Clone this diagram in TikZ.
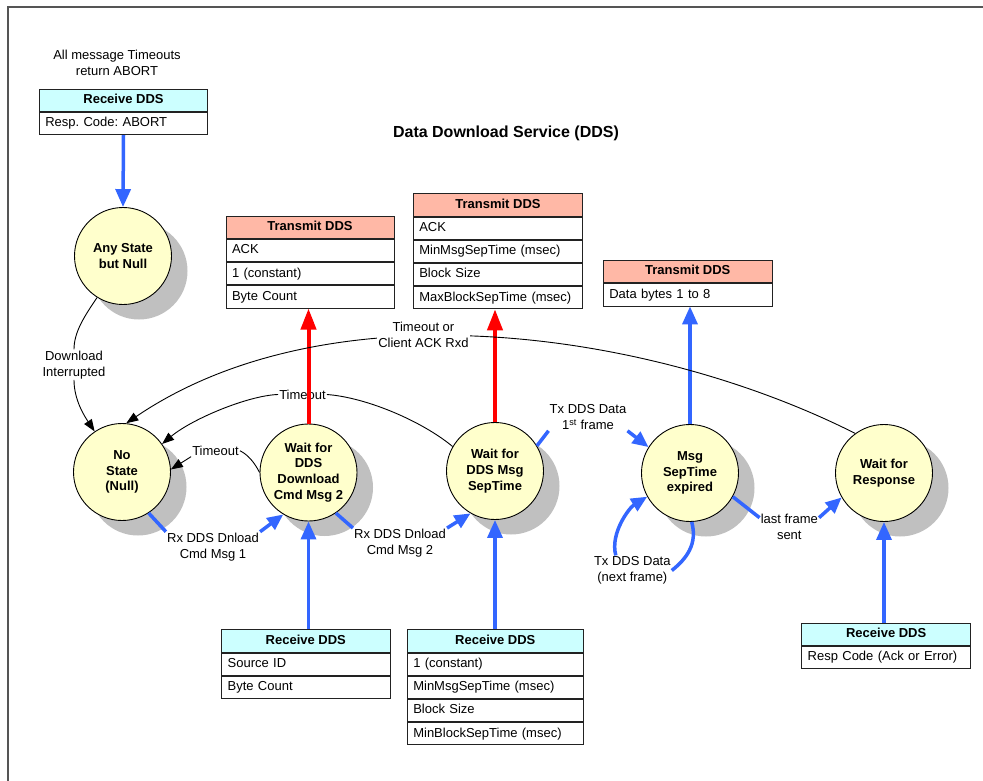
\documentclass[tikz,border=0pt]{standalone}
\usepackage{fontspec}
\setmainfont{Liberation Sans}
\usetikzlibrary{arrows.meta,positioning,shadows}
\definecolor{stateyellow}{HTML}{FFFFCC}
\definecolor{shadowgray}{HTML}{C0C0C0}
\definecolor{txcol}{HTML}{FFB8A6}
\definecolor{rxcol}{HTML}{CCFFFF}
\definecolor{arrowblue}{HTML}{3366FF}
\definecolor{arrowred}{HTML}{FF0000}
\definecolor{boxline}{HTML}{222222}
\definecolor{framecol}{HTML}{555555}
\frenchspacing
\begin{document}
\begin{tikzpicture}[x=1pt,y=-1pt,
  every node/.style={font=\fontsize{13}{16}\selectfont},
  circ/.style={circle,draw=black,line width=0.9pt,fill=stateyellow,minimum size=97pt,inner sep=0pt,align=center,
    font=\fontsize{13}{15.7}\selectfont\bfseries,
    drop shadow={shadow xshift=16pt,shadow yshift=-15pt,fill=shadowgray,opacity=1}},
  hdr/.style={draw=boxline,line width=0.9pt,fill=#1,minimum height=22.3pt,inner sep=0pt,
    text height=9.5pt,text depth=2.8pt,
    font=\fontsize{13}{16}\selectfont\bfseries,anchor=north},
  row/.style={draw=boxline,line width=0.9pt,fill=white,minimum height=22.3pt,inner ysep=0pt,inner xsep=6pt,
    text height=9.5pt,text depth=2.8pt,text width=#1,align=left},
  lbl/.style={align=center,inner sep=1pt,font=\fontsize{13}{16}\selectfont},
  bluearrow/.style={draw=arrowblue,line width=3.5pt,-{Triangle[length=18pt,width=15pt]}},
  blueline/.style={draw=arrowblue,line width=3.5pt},
  blueshort/.style={draw=arrowblue,line width=3.5pt,-{Triangle[length=16pt,width=14pt]}},
  redarrow/.style={draw=arrowred,line width=4pt,-{Triangle[length=21pt,width=15pt]}},
  blk/.style={draw=black,line width=0.9pt},
  blkarrow/.style={draw=black,line width=0.9pt,-{Triangle[length=12pt,width=9pt]}}
]
\useasboundingbox (0,0) rectangle (983,781);
\draw[framecol,line width=1.3pt] (8,781) -- (8,7) -- (983,7);

% texts
\node[lbl] (note) at (117,62.5) {All message Timeouts\\return ABORT};
\node[font=\fontsize{16}{19}\selectfont\bfseries] (title) at (506,133) {Data Download Service (DDS)};

% boxes
\node[hdr=rxcol,minimum width=168.4pt] (ah) at (123.5,88.7) {Receive DDS};
\node[row=156.4pt,below=0pt of ah] (a1) {Resp. Code: ABORT};

\node[hdr=txcol,minimum width=168pt] (t1h) at (310,215.7) {Transmit DDS};
\node[row=156pt,below=0pt of t1h] (t1a) {ACK};
\node[row=156pt,below=0pt of t1a] (t1b) {1 (constant)};
\node[row=156pt,below=0pt of t1b] (t1c) {Byte Count};

\node[hdr=txcol,minimum width=169.4pt] (t2h) at (498,193.3) {Transmit DDS};
\node[row=157.4pt,below=0pt of t2h] (t2a) {ACK};
\node[row=157.4pt,below=0pt of t2a] (t2b) {MinMsgSepTime (msec)};
\node[row=157.4pt,below=0pt of t2b] (t2c) {Block Size};
\node[row=157.4pt,below=0pt of t2c] (t2d) {MaxBlockSepTime (msec)};

\node[hdr=txcol,minimum width=169pt] (t3h) at (687.8,260) {Transmit DDS};
\node[row=157pt,below=0pt of t3h] (t3a) {Data bytes 1 to 8};

\node[hdr=rxcol,minimum width=168.3pt] (r1h) at (305.8,629.3) {Receive DDS};
\node[row=156.3pt,below=0pt of r1h] (r1a) {Source ID};
\node[row=156.3pt,below=0pt of r1a] (r1b) {Byte Count};

\node[hdr=rxcol,minimum width=176pt] (r2h) at (495.3,629.3) {Receive DDS};
\node[row=164pt,below=0pt of r2h] (r2a) {1 (constant)};
\node[row=164pt,below=0pt of r2a] (r2b) {MinMsgSepTime (msec)};
\node[row=164pt,below=0pt of r2b] (r2c) {Block Size};
\node[row=164pt,below=0pt of r2c] (r2d) {MinBlockSepTime (msec)};

\node[hdr=rxcol,minimum width=169pt] (r3h) at (886.2,622.7) {Receive DDS};
\node[row=157pt,below=0pt of r3h] (r3a) {Resp Code (Ack or Error)};

% states
\node[circ] (any) at (123,256) {Any State\\but Null};
\node[circ] (nostate) at (122,472) {No\\State\\(Null)};
\node[circ] (wdl) at (308.5,472.5) {Wait for\\DDS\\Download\\Cmd Msg 2};
\node[circ] (wsep) at (495,471) {Wait for\\DDS Msg\\SepTime};
\node[circ] (mexp) at (690,473) {Msg\\SepTime\\expired};
\node[circ] (wresp) at (884,473) {Wait for\\Response};

% labels
\node[lbl] (L1) at (213,547) {Rx DDS Dnload\\Cmd Msg 1};
\node[lbl] (L2) at (400,543.3) {Rx DDS Dnload\\Cmd Msg 2};
\node[lbl] (L3) at (588,417) {Tx DDS Data\\1\textsuperscript{st} frame};
\node[lbl] (L4) at (632.3,570.5) {Tx DDS Data\\(next frame)};
\node[lbl] (L5) at (789.3,526.7) {last frame\\sent};
\node[lbl] (LD) at (74,364.7) {Download\\Interrupted};
\node[lbl] (LT2) at (302.5,394.5) {Timeout};
\node[lbl] (LT3) at (215.5,450.7) {Timeout};

% box <-> state arrows
\draw[bluearrow] (a1.south) -- (any.north);
\draw[redarrow] (wdl.north) -- (wdl.north |- t1c.south);
\draw[redarrow] (wsep.north) -- (wsep.north |- t2d.south);
\draw[bluearrow] (mexp.north) -- (mexp.north |- t3a.south);
\draw[bluearrow] (wdl.south |- r1h.north) -- (wdl.south);
\draw[bluearrow] (wsep.south |- r2h.north) -- (wsep.south);
\draw[bluearrow] (wresp.south |- r3h.north) -- (wresp.south);

% blue transitions
\draw[blueline] (nostate.-57) -- (L1.north west);
\draw[blueshort] (L1.north east) -- (wdl.239);
\draw[blueline] (wdl.-56) -- (L2.north west);
\draw[blueshort] (L2.north east) -- (wsep.-120);
\draw[blueline] (wsep.31) -- (L3.south west);
\draw[blueshort] (L3.south east) -- (mexp.148);
\draw[blueline] (mexp.-88) .. controls +(6,22) and +(15,-12) .. (L4.east);
\draw[blueshort] ([xshift=23pt]L4.north west) .. controls +(-6,-22) and +(-18,11) .. (mexp.209);
\draw[blueline] (mexp.-29) -- ([yshift=9pt]L5.west);
\draw[blueshort] ([yshift=9pt]L5.east) -- (wresp.-150);

% black transitions
\draw[blk] (any.-122) .. controls +(-12,18) and +(0,-18) .. (LD.north);
\draw[blkarrow] (LD.south) .. controls +(0,20) and +(-10,-15) .. (nostate.124);
\draw[blkarrow] (wresp.126) .. controls (650,330) and (330,285) .. (nostate.85)
  node[pos=0.585,lbl,fill=white,yshift=2pt] (LT) {Timeout or\\Client ACK Rxd};
\draw[blk] (wsep.150) .. controls +(-30,-25) and +(40,3) .. (LT2.east);
\draw[blkarrow] (LT2.west) .. controls +(-30,1) and +(30,-25) .. (nostate.35);
\draw[blk] (wdl.west) .. controls +(-5,-10) and +(8,4) .. (LT3.east);
\draw[blkarrow] (LT3.south west) -- (nostate.3);
\end{tikzpicture}
\end{document}
